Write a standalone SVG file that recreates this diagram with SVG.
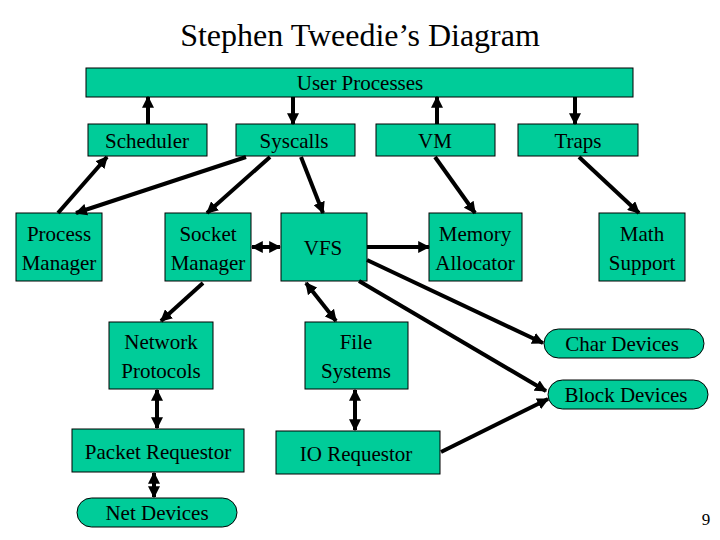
<svg xmlns="http://www.w3.org/2000/svg" width="720" height="540" viewBox="0 0 720 540">
<defs>
<style>
.n{fill:#00cc99;stroke:#000;stroke-width:1}
.t{font-family:"Liberation Serif",serif;font-size:21px;text-anchor:middle;fill:#000}
.c line{stroke:#000;stroke-width:4}
</style>
<marker id="a" viewBox="0 0 10 10" refX="9" refY="5" markerWidth="3" markerHeight="3" orient="auto-start-reverse"><path d="M0,0L10,5L0,10z" fill="#000"/></marker>
</defs>
<rect width="720" height="540" fill="#fff"/>
<text x="360" y="46" style="font-family:'Liberation Serif',serif;font-size:32px;text-anchor:middle">Stephen Tweedie’s Diagram</text>
<g id="user"><rect class="n" x="86" y="68" width="547" height="29"/><text class="t" x="360" y="90">User Processes</text></g>
<g id="sched"><rect class="n" x="88" y="124" width="119" height="32"/><text class="t" x="147" y="148">Scheduler</text></g>
<g id="sys"><rect class="n" x="236" y="124" width="119" height="32"/><text class="t" x="294" y="148">Syscalls</text></g>
<g id="vm"><rect class="n" x="376" y="124" width="119" height="32"/><text class="t" x="435" y="148">VM</text></g>
<g id="traps"><rect class="n" x="518" y="124" width="120" height="32"/><text class="t" x="578" y="148">Traps</text></g>
<g id="pm"><rect class="n" x="16" y="213" width="86" height="68"/><text class="t" x="59" y="241">Process</text><text class="t" x="59" y="270">Manager</text></g>
<g id="sm"><rect class="n" x="165" y="213" width="86" height="68"/><text class="t" x="208" y="241">Socket</text><text class="t" x="208" y="270">Manager</text></g>
<g id="vfs"><rect class="n" x="281" y="213" width="86" height="68"/><text class="t" x="323" y="255">VFS</text></g>
<g id="mem"><rect class="n" x="429" y="213" width="93" height="68"/><text class="t" x="475" y="241">Memory</text><text class="t" x="475" y="270">Allocator</text></g>
<g id="math"><rect class="n" x="599" y="213" width="86" height="68"/><text class="t" x="642" y="241">Math</text><text class="t" x="642" y="270">Support</text></g>
<g id="np"><rect class="n" x="109" y="322" width="104" height="67"/><text class="t" x="161" y="349">Network</text><text class="t" x="161" y="378">Protocols</text></g>
<g id="fs"><rect class="n" x="305" y="322" width="103" height="67"/><text class="t" x="356" y="349">File</text><text class="t" x="356" y="378">Systems</text></g>
<g id="char"><rect class="n" x="544" y="329" width="160" height="29" rx="14.5"/><text class="t" x="622" y="351">Char Devices</text></g>
<g id="block"><rect class="n" x="548" y="380" width="160" height="29" rx="14.5"/><text class="t" x="626" y="402">Block Devices</text></g>
<g id="pr"><rect class="n" x="72" y="429" width="172" height="43"/><text class="t" x="158" y="459">Packet Requestor</text></g>
<g id="io"><rect class="n" x="276" y="431" width="164" height="43"/><text class="t" x="356" y="461">IO Requestor</text></g>
<g id="nd"><rect class="n" x="77" y="498" width="160" height="29" rx="14.5"/><text class="t" x="157" y="520">Net Devices</text></g>
<text x="706" y="525" style="font-family:'Liberation Serif',serif;font-size:17px;text-anchor:middle">9</text>
<g class="c">
<line x1="148" y1="124" x2="148" y2="97" marker-end="url(#a)"/>
<line x1="293" y1="97" x2="293" y2="124" marker-end="url(#a)"/>
<line x1="437" y1="124" x2="437" y2="97" marker-end="url(#a)"/>
<line x1="575" y1="97" x2="575" y2="124" marker-end="url(#a)"/>
<line x1="58" y1="213" x2="107" y2="157" marker-end="url(#a)"/>
<line x1="246" y1="157" x2="76" y2="213" marker-end="url(#a)"/>
<line x1="270" y1="157" x2="207" y2="213" marker-end="url(#a)"/>
<line x1="301" y1="157" x2="323" y2="213" marker-end="url(#a)"/>
<line x1="435" y1="157" x2="475" y2="213" marker-end="url(#a)"/>
<line x1="579" y1="157" x2="639" y2="213" marker-end="url(#a)"/>
<line x1="252" y1="247" x2="280" y2="247" marker-start="url(#a)" marker-end="url(#a)"/>
<line x1="367" y1="247" x2="429" y2="247" marker-end="url(#a)"/>
<line x1="367" y1="260" x2="543" y2="343" marker-end="url(#a)"/>
<line x1="359" y1="281" x2="546" y2="391" marker-end="url(#a)"/>
<line x1="203" y1="283" x2="161" y2="321" marker-end="url(#a)"/>
<line x1="306" y1="283" x2="336" y2="321" marker-start="url(#a)" marker-end="url(#a)"/>
<line x1="157" y1="390" x2="157" y2="428" marker-start="url(#a)" marker-end="url(#a)"/>
<line x1="355" y1="390" x2="355" y2="430" marker-start="url(#a)" marker-end="url(#a)"/>
<line x1="154" y1="473" x2="154" y2="497" marker-start="url(#a)" marker-end="url(#a)"/>
<line x1="441" y1="452" x2="548" y2="399" marker-end="url(#a)"/>
</g>
</svg>
